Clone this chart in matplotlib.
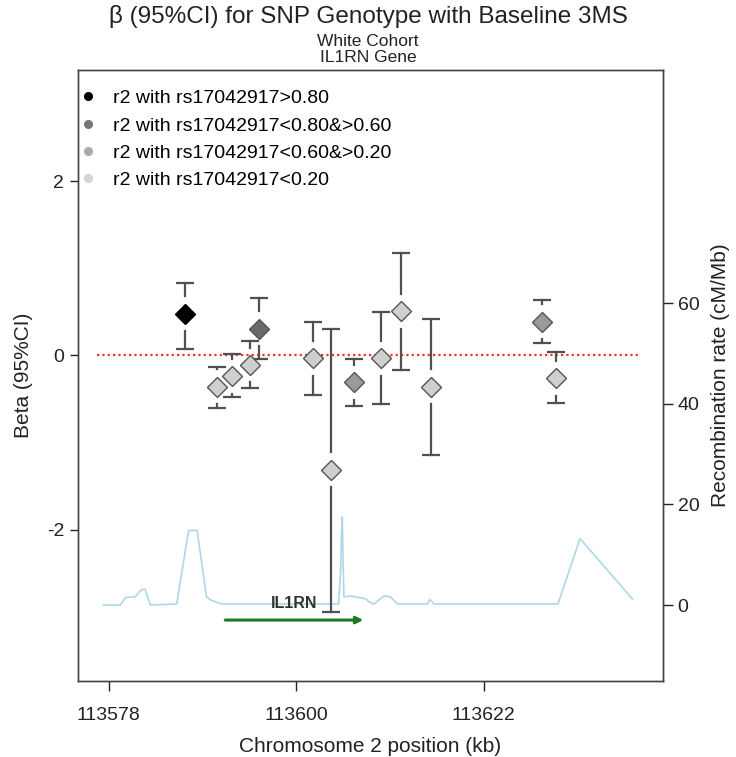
import matplotlib
matplotlib.use('Agg')
import matplotlib.pyplot as plt

plt.rcParams['font.family'] = ['Liberation Sans', 'DejaVu Sans']

# SNP positions (kb), beta, 95% CI and LD group (0: >0.8, 1: 0.6-0.8, 2: 0.2-0.6, 3: <0.2)
snp_pos = [113587.0, 113590.7, 113592.5, 113594.55, 113595.65, 113602.0, 113604.05,
           113606.8, 113610.0, 113612.3, 113615.8, 113628.9, 113630.45]
beta = [0.48, -0.36, -0.24, -0.11, 0.31, -0.03, -1.31, -0.31, -0.03, 0.51, -0.36, 0.39, -0.26]
ci_upper = [0.83, -0.13, 0.02, 0.17, 0.66, 0.38, 0.31, -0.04, 0.50, 1.18, 0.42, 0.64, 0.04]
ci_lower = [0.07, -0.60, -0.48, -0.37, -0.04, -0.45, -2.95, -0.58, -0.56, -0.17, -1.14, 0.14, -0.55]
ld_group = [0, 3, 3, 3, 1, 3, 3, 2, 3, 3, 3, 2, 3]

# recombination rate (cM/Mb)
rec_pos = [113577.4, 113579.4, 113580.0, 113581.1, 113581.9, 113582.3, 113582.9, 113586.0,
           113587.4, 113588.4, 113589.5, 113590.1, 113591.3, 113605.0, 113605.23, 113605.31,
           113605.43, 113605.55, 113605.62, 113606.4, 113608.16, 113608.55, 113609.14,
           113610.31, 113611.1, 113611.88, 113615.41, 113615.71, 113616.18, 113630.74,
           113633.32, 113639.47]
rec_rate = [0.0, 0.0, 1.5, 1.6, 3.1, 3.1, 0.0, 0.2,
            14.8, 14.8, 1.6, 0.9, 0.2, 0.2, 6.6, 12.9,
            17.5, 7.0, 1.6, 1.8, 1.25, 0.65, 0.2,
            1.8, 1.6, 0.2, 0.2, 1.1, 0.2, 0.2,
            13.2, 1.2]

gene_name = 'IL1RN'
gene_start, gene_end = 113591.7, 113607.9

legend_labels = ['r2 with rs17042917>0.80', 'r2 with rs17042917<0.80&>0.60',
                 'r2 with rs17042917<0.60&>0.20', 'r2 with rs17042917<0.20']
group_colors = ['#000000', '#6a6a6a', '#9a9a9a', '#cfcfcf']
legend_colors = ['#000000', '#777777', '#aaaaaa', '#d4d4d4']

x_ticks = [113578, 113600, 113622]
ref_line = [113576.7, 113640.4]

fig = plt.figure(figsize=(7.36, 7.57), dpi=100)
ax = fig.add_axes([78 / 736, 1 - 681 / 757, 585 / 736, 611 / 757])
ax2 = ax.twinx()
ax.set_zorder(ax2.get_zorder() + 1)
ax.patch.set_visible(False)

ax.set_xlim(113574.42, 113643.06)
ax.set_ylim(-3.74, 3.28)
ax2.set_ylim(-15.1, 106.3)

# recombination line
ax2.plot(rec_pos, rec_rate, color='#add8e6', lw=1.2)

# reference line at 0
ax.plot(ref_line, [0, 0], color='#ff2a2a', lw=1.6, linestyle=(0, (1, 1.4)), zorder=1)

# error bars with a gap around the diamond
gap = 0.2
err_col = '#505050'
for x, b, hi, lo in zip(snp_pos, beta, ci_upper, ci_lower):
    if hi > b + gap:
        ax.plot([x, x], [b + gap, hi], color=err_col, lw=1.6, zorder=2)
    if lo < b - gap:
        ax.plot([x, x], [lo, b - gap], color=err_col, lw=1.6, zorder=2)
    ax.plot([x, x], [hi, lo], linestyle='none', marker='_', ms=12.5, mew=1.6,
            color=err_col, zorder=2)

for x, b, g in zip(snp_pos, beta, ld_group):
    edge = '#000000' if g == 0 else '#555555'
    ax.plot(x, b, marker='D', ms=10, mfc=group_colors[g], mec=edge, mew=1.0,
            linestyle='none', zorder=3)

# gene arrow
ax.annotate('', xy=(gene_end, -3.04), xytext=(gene_start, -3.04),
            arrowprops=dict(arrowstyle='-|>', color='#1f7a1f', lw=2.2,
                            mutation_scale=10, shrinkA=0, shrinkB=0), zorder=4)
ax.text((gene_start + gene_end) / 2, -2.85, gene_name, ha='center', va='center',
        fontsize=11.5, fontweight='bold', color='#333333', zorder=4)

# legend
handles = [plt.Line2D([], [], marker='o', linestyle='none', ms=5.5,
                      mfc=c, mec=c) for c in legend_colors]
ax.legend(handles, legend_labels, loc='upper left', bbox_to_anchor=(-0.012, 0.987),
          frameon=False, fontsize=14, handlelength=0.6, handletextpad=0.95,
          labelspacing=0.5, borderaxespad=0.3, borderpad=0.3)

ax.set_xticks(x_ticks)
ax.set_xticklabels([str(t) for t in x_ticks])
ax.set_yticks([-2, 0, 2])
ax.set_yticklabels(['-2', '0', '2'])
ax2.set_yticks([0, 20, 40, 60])

for a in (ax, ax2):
    a.tick_params(direction='out', length=7, width=1, labelsize=14, colors='#222222')
    for s in a.spines.values():
        s.set_color('#444444')
        s.set_linewidth(1.0)
ax.tick_params(axis='x', pad=12)
ax.tick_params(axis='y', length=6, pad=4)

ax.set_xlabel('Chromosome 2 position (kb)', fontsize=15, labelpad=9, color='#222222')
ax.set_ylabel('Beta (95%CI)', fontsize=15, labelpad=10, color='#222222')
ax2.set_ylabel('Recombination rate (cM/Mb)', fontsize=15, labelpad=8, color='#222222')

fig.text(0.5, 1 - 17 / 757, '\u03b2 (95%CI) for SNP Genotype with Baseline 3MS',
         ha='center', va='center', fontsize=17.5, color='#222222')
fig.text(0.5, 1 - 41 / 757, 'White Cohort', ha='center', va='center', fontsize=12.5,
         color='#222222')
fig.text(0.5, 1 - 58 / 757, 'IL1RN Gene', ha='center', va='center', fontsize=12.5,
         color='#222222')

fig.savefig('out.png', dpi=100)
